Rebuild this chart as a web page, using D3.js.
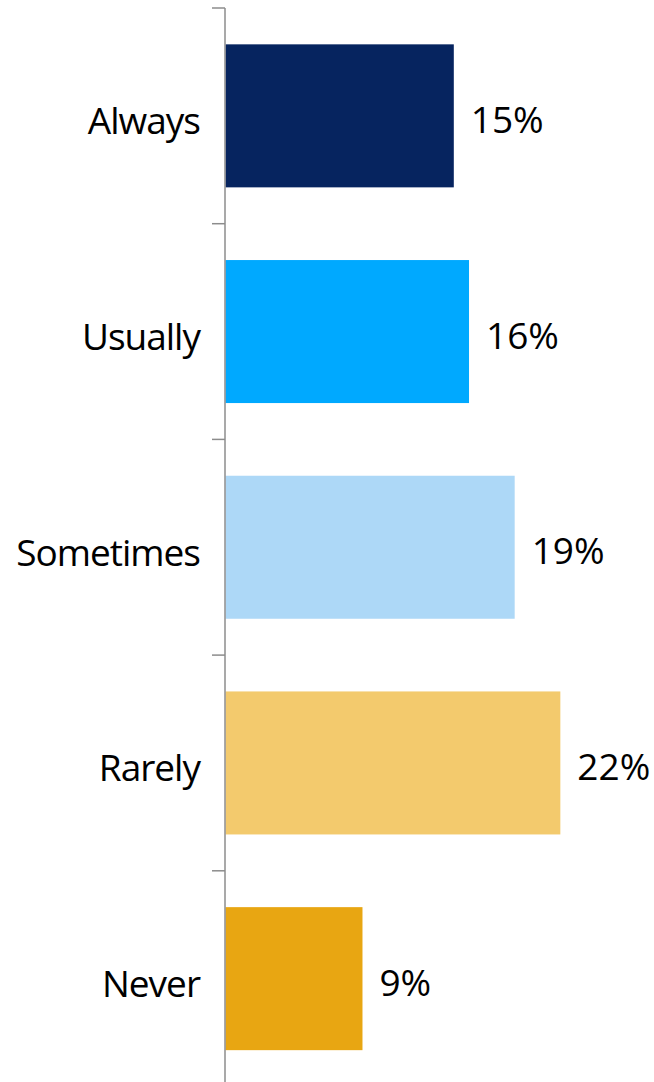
<!DOCTYPE html>
<html>
<head>
<meta charset="utf-8">
<script src="https://cdn.jsdelivr.net/npm/d3@7"></script>
<style>
  body { margin: 0; background: #fff; }
  svg { display: block; }
  text { font-family: "Open Sans", "Noto Sans", sans-serif; fill: #000; }
</style>
</head>
<body>
<svg id="chart" width="654" height="1082"></svg>
<script>
// answers and shares (%)
var categories = ["Always", "Usually", "Sometimes", "Rarely", "Never"];
var values = [15, 16, 19, 22, 9];
var colors = ["#06245f", "#00a9ff", "#add8f7", "#f3ca6d", "#e8a612"];

var width = 654, height = 1082;
var axisX = 225;

var svg = d3.select("#chart");

var x = d3.scaleLinear()
    .domain([0, 28])
    .range([axisX + 0.5, axisX + 0.5 + 28 * 15.22]);

var y = d3.scaleBand()
    .domain(categories)
    .range([8, 1086.5])
    .paddingInner(0.337)
    .paddingOuter(0.1685);

// bars
svg.selectAll("rect.bar")
    .data(values)
    .enter()
    .append("rect")
    .attr("class", "bar")
    .attr("x", x(0))
    .attr("y", function(d, i) { return y(categories[i]); })
    .attr("width", function(d) { return x(d) - x(0); })
    .attr("height", y.bandwidth())
    .style("fill", function(d, i) { return colors[i]; });

// value labels
svg.selectAll("text.val")
    .data(values)
    .enter()
    .append("text")
    .attr("class", "val")
    .attr("x", function(d) { return x(d) + 17; })
    .attr("y", function(d, i) { return y(categories[i]) + y.bandwidth() / 2; })
    .attr("dy", "0.46em")
    .style("font-size", "37px")
    .text(function(d) { return d + "%"; });

// category axis: line plus ticks at band edges
var edges = categories.map(function(c) { return y(c) - y.step() * y.paddingInner() / 2; });
edges.push(y.range()[1]);

svg.append("line")
    .attr("x1", axisX).attr("x2", axisX)
    .attr("y1", edges[0]).attr("y2", height)
    .style("stroke", "#8c8c8c")
    .style("stroke-width", 1.5);

svg.selectAll("line.tick")
    .data(edges.slice(0, 5))
    .enter()
    .append("line")
    .attr("class", "tick")
    .attr("x1", axisX - 13).attr("x2", axisX)
    .attr("y1", function(d) { return d; })
    .attr("y2", function(d) { return d; })
    .style("stroke", "#8c8c8c")
    .style("stroke-width", 1.5);

svg.selectAll("text.cat")
    .data(categories)
    .enter()
    .append("text")
    .attr("class", "cat")
    .attr("x", 200)
    .attr("y", function(d) { return y(d) + y.bandwidth() / 2; })
    .attr("dy", "0.5em")
    .attr("text-anchor", "end")
    .style("font-size", "37px")
    .style("letter-spacing", "-1px")
    .text(function(d) { return d; });
</script>
</body>
</html>
